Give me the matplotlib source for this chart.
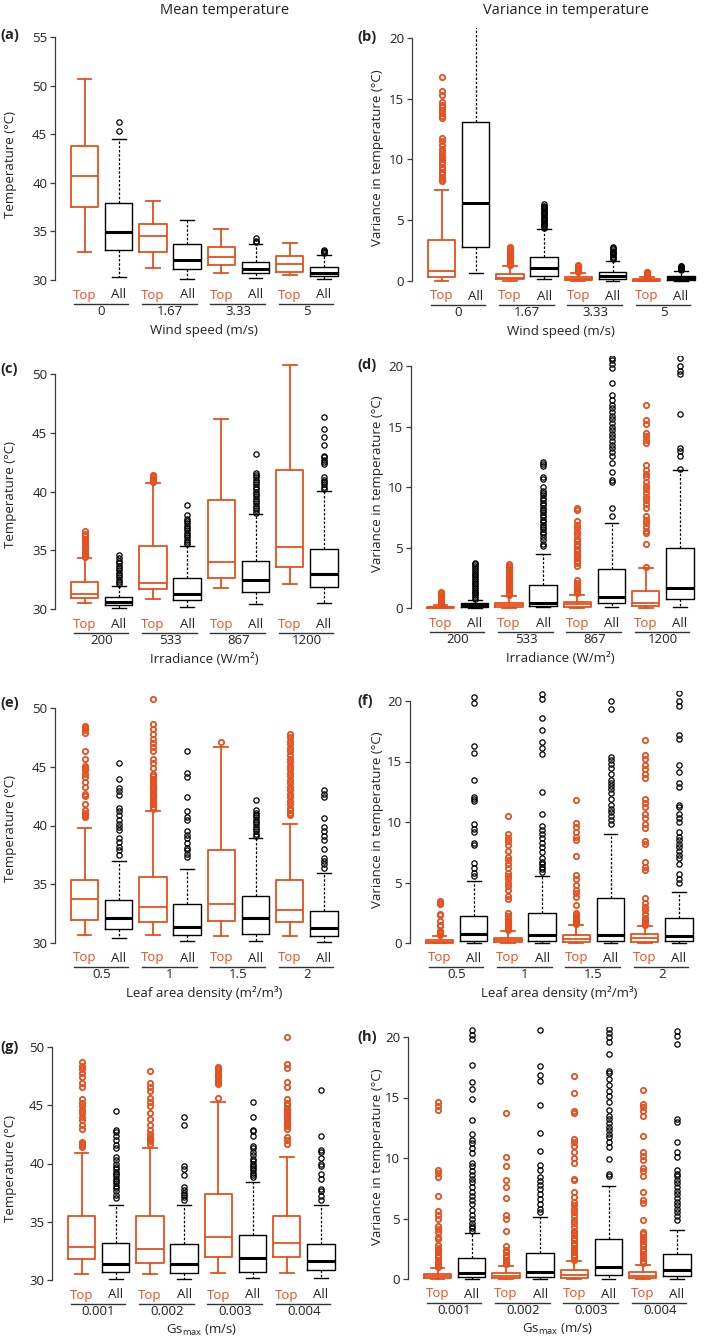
import matplotlib
matplotlib.use("Agg")
import matplotlib.pyplot as plt

plt.rcParams['font.family'] = ['Open Sans', 'DejaVu Sans']

# box order in every panel: Top, All, Top, All, ... (4 groups)
WIND = ["0", "1.67", "3.33", "5"]
IRRAD = ["200", "533", "867", "1200"]
LAD = ["0.5", "1", "1.5", "2"]
GS = ["0.001", "0.002", "0.003", "0.004"]
KIND = ["Top", "All"] * 4

# (a) mean temperature vs wind speed
A_Q1 = [37.5, 33.1, 32.85, 31.1, 31.55, 30.7, 30.85, 30.4]
A_MED = [40.75, 34.9, 34.55, 32.1, 32.4, 31.1, 31.65, 30.75]
A_Q3 = [43.8, 37.9, 35.8, 33.7, 33.4, 31.9, 32.5, 31.3]
A_LO = [32.85, 30.35, 31.2, 30.15, 30.7, 30.2, 30.5, 30.07]
A_HI = [50.7, 44.5, 38.15, 36.2, 35.2, 33.7, 33.8, 32.6]
A_OUT = [[], [45.3, 46.3], [], [], [], [33.9, 34.0, 34.3], [],
         [32.8, 32.9, 33.0, 33.1]]

# (b) variance vs wind speed
B_Q1 = [0.36, 2.83, 0.14, 0.41, 0.05, 0.14, 0.02, 0.08]
B_MED = [0.82, 6.4, 0.27, 1.04, 0.15, 0.41, 0.08, 0.22]
B_Q3 = [3.38, 13.05, 0.55, 1.95, 0.3, 0.77, 0.15, 0.41]
B_LO = [0.0, 0.63, 0.0, 0.14, 0.0, 0.02, 0.0, 0.01]
B_HI = [7.5, 22.0, 1.2, 4.29, 0.65, 1.68, 0.3, 0.85]
B_OUT = [
    [8.2, 8.4, 8.6, 8.8, 9.0, 9.2, 9.4, 9.6, 9.8, 10.0, 10.2, 10.4, 10.6, 10.9,
     11.2, 11.5, 11.8, 13.4, 13.6, 13.8, 14.1, 14.3, 14.5, 14.7, 15.3, 15.6, 16.8],
    [],
    [1.3, 1.4, 1.5, 1.6, 1.7, 1.8, 1.9, 2.0, 2.1, 2.2, 2.3, 2.4, 2.5, 2.6, 2.7, 2.8],
    [4.4, 4.5, 4.6, 4.7, 4.8, 4.9, 5.0, 5.1, 5.2, 5.3, 5.4, 5.5, 5.6, 5.7, 5.8,
     5.9, 6.0, 6.1, 6.2, 6.3],
    [0.7, 0.8, 0.9, 1.0, 1.1, 1.2, 1.3],
    [1.8, 1.9, 2.0, 2.1, 2.2, 2.3, 2.4, 2.5, 2.6, 2.7, 2.8],
    [0.35, 0.4, 0.45, 0.5, 0.55, 0.6, 0.65, 0.7, 0.75],
    [0.9, 0.95, 1.0, 1.05, 1.1, 1.15, 1.2, 1.25],
]

# (c) mean temperature vs irradiance
C_Q1 = [30.9, 30.34, 31.73, 30.77, 32.67, 31.45, 33.55, 31.84]
C_MED = [31.25, 30.62, 32.24, 31.25, 34.0, 32.47, 35.25, 32.98]
C_Q3 = [32.27, 31.05, 35.36, 32.6, 39.25, 34.11, 41.83, 35.1]
C_LO = [30.54, 30.1, 30.85, 30.17, 31.76, 30.43, 32.13, 30.54]
C_HI = [34.3, 32.0, 40.75, 35.36, 46.2, 38.06, 50.8, 40.04]
C_OUT = [
    [34.4, 34.6, 34.8, 35.0, 35.2, 35.4, 35.6, 35.8, 36.0, 36.2, 36.4, 36.6],
    [32.1, 32.3, 32.5, 32.7, 32.9, 33.1, 33.3, 33.5, 33.7, 33.9, 34.1, 34.3, 34.6],
    [40.8, 40.9, 41.0, 41.1, 41.2, 41.3, 41.4],
    [35.5, 35.7, 35.9, 36.1, 36.3, 36.5, 36.7, 36.9, 37.1, 37.3, 37.5, 37.7,
     38.0, 38.85],
    [],
    [38.2, 38.4, 38.6, 38.8, 39.0, 39.2, 39.4, 39.6, 39.8, 40.0, 40.2, 40.4,
     40.6, 40.8, 41.0, 41.2, 41.4, 41.6, 43.2],
    [],
    [40.2, 40.4, 40.6, 40.8, 41.0, 41.2, 42.3, 42.5, 42.7, 42.9, 43.0, 44.0,
     44.6, 45.3, 46.3],
]

# (d) variance vs irradiance
D_Q1 = [0.01, 0.1, 0.08, 0.16, 0.1, 0.44, 0.16, 0.72]
D_MED = [0.05, 0.22, 0.25, 0.44, 0.3, 0.88, 0.44, 1.62]
D_Q3 = [0.12, 0.39, 0.44, 1.9, 0.52, 3.19, 1.4, 4.98]
D_LO = [0.0, 0.02, 0.0, 0.05, 0.0, 0.1, 0.0, 0.1]
D_HI = [0.25, 0.66, 1.0, 4.43, 1.1, 7.0, 3.27, 11.4]
D_OUT = [
    [0.3, 0.4, 0.5, 0.6, 0.7, 0.8, 0.9, 1.0, 1.1, 1.2, 1.3],
    [0.75, 0.9, 1.05, 1.2, 1.35, 1.5, 1.65, 1.8, 1.95, 2.1, 2.25, 2.4, 2.55,
     2.7, 2.85, 3.0, 3.15, 3.3, 3.45, 3.6, 3.75],
    [1.1, 1.25, 1.4, 1.55, 1.7, 1.85, 2.0, 2.15, 2.3, 2.45, 2.6, 2.75, 2.9,
     3.05, 3.2, 3.35, 3.5, 3.65],
    [5.1, 5.3, 5.6, 5.9, 6.1, 6.3, 6.5, 6.7, 6.9, 7.1, 7.3, 7.5, 7.7, 7.9, 8.1,
     8.3, 8.5, 8.7, 8.9, 9.1, 9.3, 9.5, 9.7, 10.0, 10.7, 10.8, 11.7, 11.9, 12.1],
    [1.2, 1.35, 1.5, 1.65, 1.8, 2.1, 2.3, 3.5, 3.7, 3.9, 4.1, 4.3, 4.5, 4.7,
     4.9, 5.1, 5.3, 5.5, 5.7, 6.0, 6.3, 6.6, 6.9, 7.2, 8.1, 8.3],
    [7.6, 8.3, 10.4, 10.6, 11.2, 12.0, 12.6, 12.9, 13.2, 13.5, 13.8, 14.1,
     14.4, 14.7, 15.0, 15.3, 15.6, 15.9, 16.2, 16.5, 16.8, 17.2, 17.6, 18.6,
     19.8, 20.2, 20.5, 20.7],
    [3.4, 5.3, 6.2, 6.4, 6.7, 7.0, 7.3, 7.6, 8.3, 8.6, 8.9, 9.2, 9.5, 9.8,
     10.1, 10.4, 10.8, 11.1, 11.4, 11.8, 13.6, 13.9, 14.2, 14.5, 15.2, 15.5, 16.8],
    [11.5, 12.6, 13.0, 13.2, 16.0, 19.3, 19.6, 20.0, 20.7],
]

# (e) mean temperature vs leaf area density
E_Q1 = [32.0, 31.2, 31.8, 30.65, 31.9, 30.75, 31.8, 30.6]
E_MED = [33.75, 32.1, 33.1, 31.4, 33.3, 32.1, 32.85, 31.25]
E_Q3 = [35.4, 33.7, 35.6, 33.3, 37.9, 34.0, 35.35, 32.75]
E_LO = [30.65, 30.4, 30.65, 30.15, 30.6, 30.17, 30.6, 30.1]
E_HI = [39.8, 37.0, 41.25, 36.3, 46.7, 38.9, 40.1, 36.0]
E_OUT = [
    [40.7, 40.9, 41.1, 41.3, 41.8, 42.5, 42.7, 43.3, 43.7, 44.1, 44.4, 44.7,
     44.9, 45.1, 45.7, 46.3, 47.9, 48.1, 48.3, 48.5],
    [37.5, 37.9, 38.2, 38.6, 38.9, 39.6, 39.9, 40.1, 40.5, 40.9, 41.2, 41.5,
     42.6, 42.9, 43.2, 44.0, 45.3],
    [41.4, 41.6, 41.8, 42.0, 42.2, 42.4, 42.6, 42.8, 43.0, 43.2, 43.4, 43.6,
     43.8, 44.0, 44.2, 44.4, 44.9, 45.3, 45.7, 46.3, 46.7, 47.0, 47.4, 47.8,
     48.2, 48.6, 50.8],
    [37.3, 37.6, 37.9, 38.1, 38.5, 38.9, 39.2, 39.5, 40.5, 40.7, 41.2, 42.4,
     44.1, 44.5, 46.3],
    [47.1],
    [39.1, 39.3, 39.5, 39.7, 39.9, 40.1, 40.3, 40.5, 40.7, 40.9, 41.1, 41.3, 42.2],
    [40.9, 41.1, 41.3, 41.5, 41.8, 42.1, 42.4, 42.7, 43.0, 43.3, 43.6, 43.9,
     44.2, 44.5, 44.8, 45.1, 45.4, 45.7, 46.0, 46.3, 46.6, 46.9, 47.2, 47.5, 47.8],
    [36.4, 36.7, 37.0, 37.2, 38.0, 38.8, 39.1, 39.5, 39.9, 40.6, 42.4, 42.7, 43.0],
]

# (f) variance vs leaf area density
F_Q1 = [0.03, 0.19, 0.05, 0.19, 0.08, 0.16, 0.08, 0.14]
F_MED = [0.1, 0.74, 0.22, 0.69, 0.33, 0.69, 0.38, 0.6]
F_Q3 = [0.27, 2.2, 0.41, 2.47, 0.69, 3.76, 0.74, 2.06]
F_LO = [0.0, 0.02, 0.0, 0.02, 0.0, 0.02, 0.0, 0.02]
F_HI = [0.6, 5.15, 1.0, 5.5, 1.5, 9.0, 1.37, 4.23]
F_OUT = [
    [0.7, 0.8, 0.9, 1.0, 1.4, 1.5, 1.8, 2.3, 2.4, 3.2, 3.3, 3.5],
    [5.5, 5.8, 6.2, 6.6, 8.1, 8.3, 9.2, 9.4, 9.8, 11.7, 11.9, 12.1, 13.5, 15.7,
     16.3, 19.8, 20.3],
    [1.1, 1.25, 1.4, 1.55, 1.7, 1.85, 2.0, 2.2, 2.5, 3.6, 3.9, 4.4, 4.7, 5.0,
     5.3, 5.5, 5.8, 6.2, 6.5, 6.9, 7.1, 7.6, 8.1, 8.4, 8.7, 9.0, 10.5],
    [5.9, 6.1, 6.3, 6.5, 6.7, 7.0, 7.5, 7.9, 8.3, 8.7, 9.0, 9.3, 9.7, 10.7,
     12.5, 15.6, 16.1, 16.6, 17.6, 18.6, 20.2, 20.6],
    [1.6, 1.75, 1.9, 2.05, 2.2, 2.35, 2.5, 3.1, 3.8, 4.1, 4.4, 4.8, 5.3, 5.6,
     7.2, 8.5, 8.8, 9.2, 9.6, 9.9, 11.8],
    [9.8, 10.2, 10.5, 10.8, 11.1, 11.4, 11.9, 12.4, 12.7, 13.0, 13.2, 13.5,
     14.0, 14.5, 14.8, 15.1, 15.4, 19.3, 20.0],
    [1.5, 1.65, 1.8, 1.95, 2.1, 2.4, 2.7, 3.0, 3.3, 3.7, 6.0, 6.3, 6.7, 8.2,
     8.4, 9.5, 9.8, 10.3, 10.7, 11.2, 11.6, 11.9, 13.6, 14.0, 14.4, 14.7, 15.2,
     15.5, 16.8],
    [5.0, 5.3, 5.7, 6.5, 7.0, 7.3, 7.6, 7.9, 8.2, 8.5, 8.8, 9.2, 10.0, 10.3,
     10.7, 11.2, 11.4, 12.9, 13.2, 14.1, 14.7, 16.9, 17.2, 19.6, 20.0, 20.7],
]

# (g) mean temperature vs Gs_max
G_Q1 = [31.8, 30.7, 31.5, 30.6, 31.95, 30.7, 32.0, 30.85]
G_MED = [32.85, 31.4, 32.7, 31.4, 33.65, 31.85, 33.2, 31.6]
G_Q3 = [35.5, 33.15, 35.5, 33.05, 37.4, 33.9, 35.5, 33.05]
G_LO = [30.5, 30.1, 30.5, 30.05, 30.6, 30.2, 30.6, 30.15]
G_HI = [40.9, 36.4, 41.35, 36.45, 45.25, 38.4, 40.6, 36.4]
G_OUT = [
    [41.4, 41.55, 41.7, 41.85, 43.0, 43.3, 43.7, 44.0, 44.3, 44.6, 44.9, 45.2,
     45.5, 46.6, 46.9, 47.4, 47.8, 48.1, 48.4, 48.7],
    [37.0, 37.3, 37.6, 37.9, 38.1, 38.3, 38.5, 38.7, 38.9, 39.1, 39.3, 39.5,
     39.7, 40.0, 40.3, 40.6, 41.3, 41.6, 42.0, 42.4, 42.7, 42.9, 44.5],
    [41.7, 41.9, 42.1, 42.3, 42.5, 42.9, 43.3, 43.8, 44.3, 44.9, 45.3, 45.6,
     46.2, 46.6, 46.9, 47.9],
    [36.9, 37.1, 37.3, 37.5, 37.7, 38.0, 39.0, 39.5, 39.8, 43.3, 44.0],
    [45.6, 46.8, 47.0, 47.2, 47.4, 47.6, 47.8, 48.0, 48.2, 48.3],
    [38.8, 39.0, 39.2, 39.4, 39.6, 39.8, 40.0, 40.2, 40.4, 40.7, 41.0, 41.3,
     41.5, 42.4, 42.8, 42.9, 44.0, 45.3],
    [41.7, 42.0, 42.3, 43.0, 43.2, 43.4, 43.6, 43.8, 44.0, 44.2, 44.4, 44.6,
     44.8, 45.0, 45.2, 45.5, 46.6, 47.0, 48.2, 48.5, 50.9],
    [36.9, 37.2, 37.6, 37.8, 38.7, 39.1, 39.8, 40.0, 40.5, 41.0, 41.2, 42.4, 46.3],
]

# (h) variance vs Gs_max
H_Q1 = [0.08, 0.16, 0.08, 0.16, 0.11, 0.3, 0.11, 0.22]
H_MED = [0.22, 0.49, 0.22, 0.58, 0.33, 0.96, 0.27, 0.77]
H_Q3 = [0.41, 1.7, 0.49, 2.14, 0.71, 3.3, 0.55, 2.06]
H_LO = [0.0, 0.02, 0.0, 0.02, 0.0, 0.02, 0.0, 0.02]
H_HI = [0.9, 3.8, 1.05, 5.16, 1.5, 7.7, 1.13, 4.07]
H_OUT = [
    [1.0, 1.2, 1.4, 1.6, 1.8, 2.0, 2.2, 2.4, 2.6, 2.8, 3.3, 3.5, 3.9, 4.1, 4.4,
     5.0, 5.3, 5.6, 6.9, 8.4, 8.8, 9.0, 14.0, 14.3, 14.6],
    [4.0, 4.2, 4.4, 4.6, 5.0, 5.3, 5.7, 6.2, 6.5, 6.9, 7.2, 7.6, 8.0, 8.3, 8.6,
     8.9, 9.3, 9.6, 10.4, 10.8, 11.2, 11.5, 12.0, 13.1, 14.9, 15.7, 16.3, 17.7,
     19.8, 20.2, 20.6],
    [1.2, 1.4, 1.6, 1.8, 2.0, 2.2, 2.4, 2.7, 4.0, 5.0, 5.3, 6.7, 7.6, 8.2, 9.3,
     10.1, 13.7],
    [5.5, 5.8, 6.2, 6.6, 7.0, 7.4, 7.8, 8.1, 8.4, 9.0, 9.4, 10.6, 12.1, 14.4,
     16.4, 16.9, 17.6, 20.6],
    [1.6, 1.8, 2.0, 2.2, 2.4, 2.6, 2.8, 3.0, 3.2, 3.4, 3.6, 3.8, 4.0, 4.3, 4.6,
     4.9, 5.2, 5.5, 5.8, 6.1, 6.4, 6.8, 7.2, 8.2, 8.3, 9.6, 10.0, 10.5, 11.0,
     11.3, 11.6, 13.7, 13.9, 15.4, 16.8],
    [8.5, 8.7, 9.9, 10.9, 11.3, 11.7, 12.0, 12.3, 12.6, 12.9, 13.2, 13.5, 14.0,
     14.6, 15.1, 15.5, 16.0, 16.5, 17.0, 17.2, 18.6, 19.6, 20.0, 20.3, 20.7],
    [1.3, 1.5, 1.7, 1.9, 2.1, 2.3, 2.5, 2.7, 2.9, 3.1, 3.3, 3.5, 3.7, 3.9, 4.9,
     6.3, 6.5, 7.2, 8.5, 8.9, 9.2, 9.8, 10.2, 10.5, 11.8, 13.5, 13.9, 14.2,
     14.5, 15.6],
    [4.9, 5.2, 5.5, 5.8, 6.1, 6.4, 6.7, 7.0, 7.3, 7.6, 7.9, 8.2, 8.5, 8.7, 9.0,
     10.1, 10.5, 11.3, 13.0, 13.2, 19.4, 20.1, 20.5],
]

ORANGE = "#E5501E"
INK = "#222222"
W, H = 709, 1343
STEP = 34.2      # px between neighbouring boxes
LEAD = 29.5      # px from y spine to first box centre
FS = 9.5

fig = plt.figure(figsize=(W / 100, H / 100), dpi=100)


def make_axes(x0, y_lo, y_hi, ticks, lim):
    """place an axes so that tick ticks[0] sits at y_lo px and ticks[-1] at y_hi px"""
    ppu = (y_lo - y_hi) / (ticks[-1] - ticks[0])
    bottom = y_lo + (ticks[0] - lim[0]) * ppu
    top = y_lo - (lim[1] - ticks[0]) * ppu
    width = LEAD + 7.5 * STEP
    ax = fig.add_axes([x0 / W, 1 - bottom / H, width / W, (bottom - top) / H])
    for s in ("top", "right", "bottom"):
        ax.spines[s].set_visible(False)
    ax.spines["left"].set_color("#3a3a3a")
    ax.spines["left"].set_linewidth(0.9)
    ax.tick_params(axis="y", length=3.6, width=0.9, color="#3a3a3a",
                   labelsize=FS, labelcolor=INK, pad=2)
    return ax, ppu


def draw(ax, ppu, ticks, lim, q1, med, q3, lo, hi, out, groups, xlabel):
    for i in range(8):
        top = KIND[i] == "Top"
        c = ORANGE if top else "black"
        lw = 1.3 if top else 1.0
        st = dict(q1=q1[i], med=med[i], q3=q3[i], whislo=lo[i], whishi=hi[i],
                  fliers=out[i])
        ax.bxp([st], positions=[i + 1], widths=0.8, capwidths=0.4,
               manage_ticks=False,
               boxprops=dict(color=c, lw=lw),
               medianprops=dict(color=c, lw=1.3 if top else 2.2,
                                solid_capstyle="butt"),
               whiskerprops=dict(color=c, lw=lw if top else 0.9,
                                 ls="-" if top else (0, (2, 1.4))),
               capprops=dict(color=c, lw=lw),
               flierprops=dict(marker="o", mfc="none", mec=c, ms=3.8,
                               mew=1.3 if top else 0.9, ls="none"))
    ax.set_xlim(1 - LEAD / STEP, 8.5)
    ax.set_ylim(*lim)
    ax.set_yticks(ticks)
    ax.set_xticks([])
    ax.spines["left"].set_bounds(ticks[0], ticks[-1])
    y0 = ticks[0]
    for i in range(8):
        ax.text(i + 1, y0 - 15 / ppu, KIND[i], ha="center", va="center",
                fontsize=FS, color=ORANGE if KIND[i] == "Top" else INK,
                clip_on=False)
    for g, lab in enumerate(groups):
        p = 2 * g + 1
        ax.plot([p - 0.32, p + 1.28], [y0 - 23.5 / ppu] * 2, color="#333333",
                lw=1.0, clip_on=False)
        ax.text(p + 0.5, y0 - 31.5 / ppu, lab, ha="center", va="center",
                fontsize=FS, color=INK, clip_on=False)
    ax.text(4.5, y0 - 50 / ppu, xlabel, ha="center", va="center",
            fontsize=FS, color=INK, clip_on=False)


T_TICKS_A = [30, 35, 40, 45, 50, 55]
T_TICKS = [30, 35, 40, 45, 50]
V_TICKS = [0, 5, 10, 15, 20]
V_LIM = (-0.8, 20.8)
T_LIM = (29.2, 51.2)
A_LIM = (29.0, 56.0)

ax, ppu = make_axes(55, 280, 37, T_TICKS_A, A_LIM)
draw(ax, ppu, T_TICKS_A, A_LIM, A_Q1, A_MED, A_Q3, A_LO, A_HI, A_OUT, WIND,
     "Wind speed (m/s)")
ax, ppu = make_axes(412, 281, 38, V_TICKS, V_LIM)
draw(ax, ppu, V_TICKS, V_LIM, B_Q1, B_MED, B_Q3, B_LO, B_HI, B_OUT, WIND,
     "Wind speed (m/s)")

ax, ppu = make_axes(55, 609, 374, T_TICKS, T_LIM)
draw(ax, ppu, T_TICKS, T_LIM, C_Q1, C_MED, C_Q3, C_LO, C_HI, C_OUT, IRRAD,
     "Irradiance (W/m²)")
ax, ppu = make_axes(411, 608, 366, V_TICKS, V_LIM)
draw(ax, ppu, V_TICKS, V_LIM, D_Q1, D_MED, D_Q3, D_LO, D_HI, D_OUT, IRRAD,
     "Irradiance (W/m²)")

ax, ppu = make_axes(55, 943, 708, T_TICKS, T_LIM)
draw(ax, ppu, T_TICKS, T_LIM, E_Q1, E_MED, E_Q3, E_LO, E_HI, E_OUT, LAD,
     "Leaf area density (m²/m³)")
ax, ppu = make_axes(410, 943, 701, V_TICKS, V_LIM)
draw(ax, ppu, V_TICKS, V_LIM, F_Q1, F_MED, F_Q3, F_LO, F_HI, F_OUT, LAD,
     "Leaf area density (m²/m³)")

GS_LABEL = r"Gs$_{\mathregular{max}}$ (m/s)"
ax, ppu = make_axes(52, 1280, 1047, T_TICKS, T_LIM)
draw(ax, ppu, T_TICKS, T_LIM, G_Q1, G_MED, G_Q3, G_LO, G_HI, G_OUT, GS, GS_LABEL)
ax, ppu = make_axes(408, 1279, 1037, V_TICKS, V_LIM)
draw(ax, ppu, V_TICKS, V_LIM, H_Q1, H_MED, H_Q3, H_LO, H_HI, H_OUT, GS, GS_LABEL)

# column titles, y labels and panel tags, placed in figure pixels
fig.text(225 / W, 1 - 11 / H, "Mean temperature", ha="center", va="center",
         fontsize=10.5, color=INK)
fig.text(566 / W, 1 - 11 / H, "Variance in temperature", ha="center",
         va="center", fontsize=10.5, color=INK)

for x, y, lab in [(11, 165, "Temperature (°C)"), (378, 158, "Variance in temperature (°C)"),
                  (11, 495, "Temperature (°C)"), (378, 484, "Variance in temperature (°C)"),
                  (11, 828, "Temperature (°C)"), (378, 820, "Variance in temperature (°C)"),
                  (11, 1168, "Temperature (°C)"), (378, 1157, "Variance in temperature (°C)")]:
    fig.text(x / W, 1 - y / H, lab, rotation=90, ha="center", va="center",
             fontsize=FS, color=INK)

for x, y, tag in [(0, 35, "(a)"), (357, 37, "(b)"), (0, 369, "(c)"), (357, 365, "(d)"),
                  (0, 703, "(e)"), (357, 701, "(f)"), (0, 1047, "(g)"), (357, 1037, "(h)")]:
    fig.text(x / W, 1 - y / H, tag, ha="left", va="center", fontsize=10.5,
             fontweight="bold", color=INK)

fig.savefig("out.png", dpi=100)
